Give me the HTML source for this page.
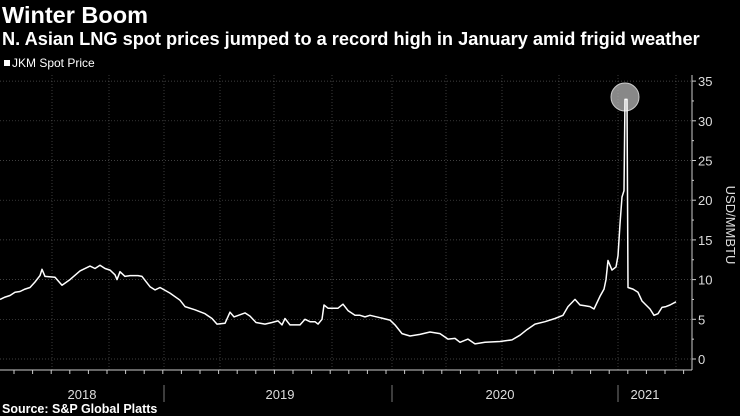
<!DOCTYPE html>
<html><head><meta charset="utf-8"><style>
html,body{margin:0;padding:0;background:#000;width:740px;height:416px;overflow:hidden}
svg{display:block}
text{font-family:"Liberation Sans",sans-serif}
</style></head><body>
<svg id="s" width="740" height="416" viewBox="0 0 740 416">
<text x="2" y="23" fill="#fff" font-size="23.5" font-weight="bold">Winter Boom</text>
<text x="2" y="45" fill="#fff" font-size="18.2" font-weight="bold">N. Asian LNG spot prices jumped to a record high in January amid frigid weather</text>
<rect x="4" y="60" width="6" height="6" fill="#fff"/>
<text x="12" y="67" fill="#fff" font-size="12">JKM Spot Price</text>
<g id="grid" stroke="#555" stroke-width="0.7" stroke-dasharray="1,2"></g>
<line x1="0" y1="370" x2="692" y2="370" stroke="#ccc" stroke-width="1"/>
<line x1="692" y1="75" x2="692" y2="370" stroke="#ccc" stroke-width="1"/>
<g id="ticks" stroke="#ccc" stroke-width="1"></g>
<g id="ylab" fill="#ddd" font-size="13"></g>
<text transform="translate(726,225) rotate(90)" fill="#ddd" font-size="13" text-anchor="middle">USD/MMBTU</text>
<line x1="164" y1="385" x2="164" y2="402" stroke="#777"/>
<line x1="392" y1="385" x2="392" y2="402" stroke="#777"/>
<line x1="618" y1="385" x2="618" y2="402" stroke="#777"/>
<g fill="#ddd" font-size="13" text-anchor="middle">
<text x="82" y="399">2018</text><text x="280" y="399">2019</text><text x="500" y="399">2020</text><text x="645" y="399">2021</text>
</g>
<circle cx="625" cy="97" r="14" fill="#aaa" fill-opacity="0.8" stroke="#ccc" stroke-width="1"/>
<polyline id="line" fill="none" stroke="#fff" stroke-width="1.5" stroke-linejoin="round"/>
<text x="2" y="413" fill="#fff" font-size="12.5" font-weight="bold">Source: S&amp;P Global Platts</text>
</svg>
<script>
var NS="http://www.w3.org/2000/svg";
function Y(v){return 359-v*7.94;}
function el(p,t,a){var e=document.createElementNS(NS,t);for(var k in a)e.setAttribute(k,a[k]);document.getElementById(p).appendChild(e);return e;}
for(var v=0;v<=35;v+=5){el("grid","line",{x1:0,x2:692,y1:Y(v),y2:Y(v)});el("ticks","line",{x1:692,x2:696,y1:Y(v),y2:Y(v)});var t=el("ylab","text",{x:698,y:Y(v)+5});t.textContent=v;}
for(var v=2.5;v<35;v+=5){el("ticks","line",{x1:692,x2:694,y1:Y(v),y2:Y(v)});}
[52,109,164,220,274,332,392,446,502,559,618,676].forEach(function(x){el("grid","line",{x1:x,x2:x,y1:75,y2:370});});
for(var x=14;x<692;x+=18.6){el("ticks","line",{x1:x,x2:x,y1:370,y2:374});}
var d=[[0,7.5],[5,7.8],[10,8],[15,8.4],[20,8.5],[25,8.8],[30,9],[35,9.7],[40,10.5],[42,11.3],[45,10.4],[55,10.3],[62,9.3],[70,10],[80,11.1],[90,11.7],[95,11.4],[100,11.8],[105,11.4],[110,11.2],[115,10.6],[117,10],[120,11],[125,10.4],[130,10.5],[138,10.5],[142,10.4],[150,9.1],[155,8.7],[160,9],[170,8.3],[180,7.4],[185,6.6],[195,6.2],[205,5.7],[212,5.1],[217,4.4],[225,4.5],[230,5.9],[234,5.3],[245,5.8],[250,5.4],[256,4.6],[265,4.4],[272,4.6],[278,4.8],[282,4.3],[285,5.1],[290,4.3],[300,4.3],[305,5],[310,4.7],[315,4.7],[318,4.4],[322,5],[324,6.8],[328,6.4],[338,6.4],[343,6.9],[348,6.1],[355,5.5],[360,5.5],[365,5.3],[370,5.5],[380,5.2],[390,4.9],[395,4.3],[402,3.2],[410,2.9],[420,3.1],[430,3.4],[440,3.2],[448,2.5],[455,2.6],[460,2.1],[468,2.5],[475,1.9],[485,2.1],[500,2.2],[512,2.4],[520,3],[527,3.7],[535,4.4],[545,4.7],[555,5.1],[563,5.5],[568,6.6],[575,7.5],[580,6.8],[585,6.7],[590,6.6],[594,6.3],[600,7.9],[604,8.8],[606,10],[608,12.4],[612,11.2],[616,11.6],[618,13],[620,17],[622,20.4],[624,21.2],[625,32.7],[627,32.7],[628,9],[633,8.8],[638,8.4],[642,7.3],[646,6.8],[650,6.3],[654,5.5],[658,5.7],[662,6.5],[666,6.6],[670,6.8],[676,7.2]];
document.getElementById("line").setAttribute("points",d.map(function(p){return p[0]+","+Y(p[1]).toFixed(1);}).join(" "));
</script>
</body></html>
